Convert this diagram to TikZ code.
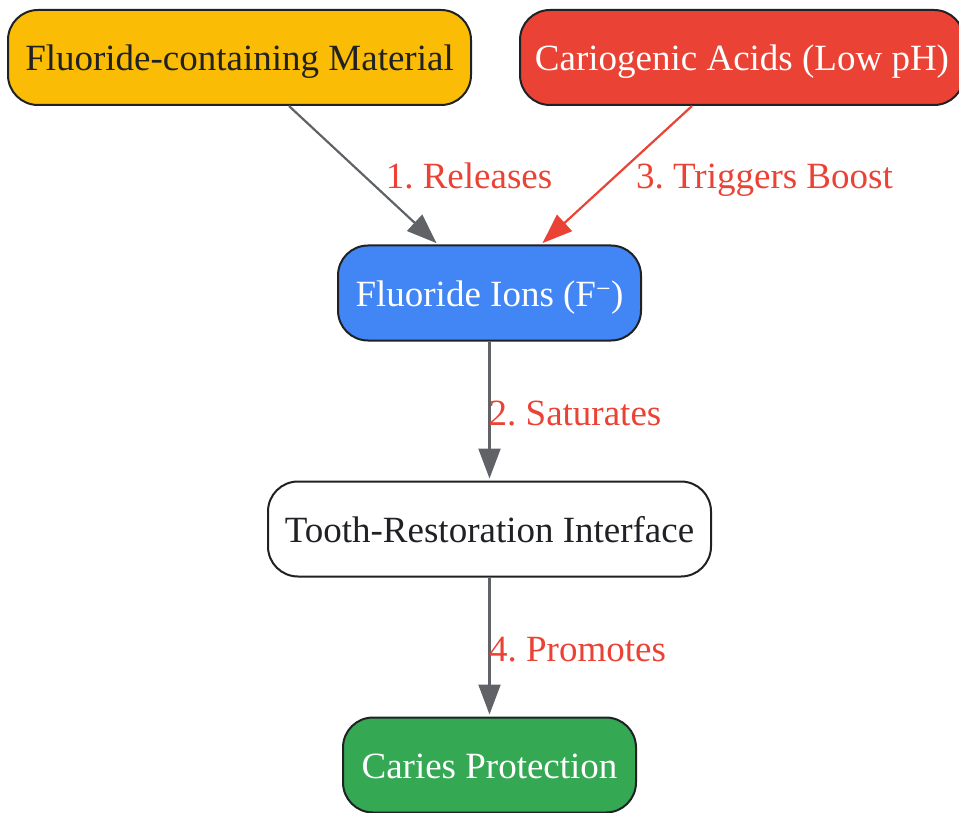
\documentclass[tikz,border=0pt]{standalone}
\usepackage{fontspec}
\setmainfont{Liberation Serif}
\usetikzlibrary{arrows.meta}
\definecolor{cyellow}{HTML}{FBBC05}
\definecolor{cred}{HTML}{EA4335}
\definecolor{cblue}{HTML}{4285F4}
\definecolor{cgreen}{HTML}{34A853}
\definecolor{cdark}{HTML}{202124}
\definecolor{cgray}{HTML}{5F6368}
\tikzset{
  box/.style={draw=cdark, line width=2pt, rounded corners=30pt, minimum height=95pt,
    inner xsep=0pt, text height=27pt, text depth=0pt, font=\fontsize{37}{44}\selectfont},
  conn/.style={line width=2.2pt, draw=cgray, -{Triangle[length=30pt,width=22pt]}, shorten >=2pt},
  redconn/.style={conn, draw=cred, -{Triangle[length=30pt,width=22pt,fill=cred]}},
  lbl/.style={text=cred, font=\fontsize{37}{44}\selectfont, inner sep=0pt, anchor=base}
}
\begin{document}
\frenchspacing
\begin{tikzpicture}[x=1pt,y=-1pt]
\useasboundingbox (0,0) rectangle (959,813);
\node[box, fill=cyellow, text=cdark, minimum width=463pt] (fm) at (239.5,57.5) {Fluoride-containing Material};
\node[box, fill=cred, text=white, minimum width=444pt] (ca) at (742,57.5) {Cariogenic Acids (Low pH)};
\node[box, fill=cblue, text=white, minimum width=303pt] (fi) at (489.5,293) {Fluoride Ions (F\textsuperscript{\char"2212})};
\node[box, fill=white, text=cdark, minimum width=443pt] (tr) at (489.5,529) {Tooth-Restoration Interface};
\node[box, fill=cgreen, text=white, minimum width=293pt] (cp) at (489.5,765) {Caries Protection};
\draw[conn] ([xshift=49.5pt]fm.south) -- ([xshift=-51.5pt]fi.north);
\draw[redconn] ([xshift=-50pt]ca.south) -- ([xshift=51.5pt]fi.north);
\draw[conn] (fi.south) -- (tr.north);
\draw[conn] (tr.south) -- (cp.north);
\node[lbl] (l1) at (469,189) {1. Releases};
\node[lbl] (l3) at (764.5,189) {3. Triggers Boost};
\node[lbl] (l2) at (575,425) {2. Saturates};
\node[lbl] (l4) at (577.5,661) {4. Promotes};
\end{tikzpicture}
\end{document}
